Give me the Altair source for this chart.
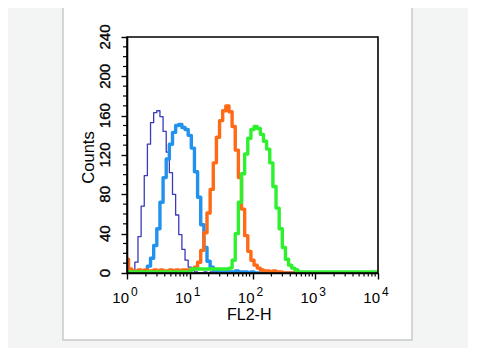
import altair as alt
import pandas as pd

# ---- data read from the reference histogram overlay ----
# bin centres in decades (log10 of FL2-H), 0.05 decade per channel group
LOG_BINS = [round(i * 0.05, 2) for i in range(81)]

DARK_BLUE = [0, 1, 3, 11, 37, 68, 99, 131, 153, 163,
             165, 159, 144, 123, 102, 80, 59, 39, 24, 13,
             6, 3, 1, 0, 0, 1, 0, 1, 1, 0,
             1, 0, 1, 1, 0, 1, 0, 0, 1, 0,
             0] + [0] * 40

LIGHT_BLUE = [0, 0, 0, 0, 0, 1, 2, 7, 15, 28,
              45, 72, 97, 116, 131, 143, 150, 151, 148, 146,
              140, 127, 103, 77, 49, 26, 12, 6, 3, 2,
              1, 1, 2, 1, 1, 2, 1, 1, 1, 0,
              1, 0] + [0] * 39

ORANGE = [14, 4, 2, 2, 3, 2, 3, 2, 2, 3,
          2, 3, 2, 2, 3, 2, 3, 2, 3, 3,
          3, 4, 6, 11, 23, 41, 61, 85, 112, 138,
          155, 165, 170, 164, 149, 125, 97, 65, 38, 22,
          13, 8, 5, 3, 2, 2, 1, 2, 1, 1,
          0] + [0] * 30

GREEN = [1] * 21 + [4] * 12 + [5, 13, 40, 72, 101, 121, 137,
         146, 149, 147, 141, 134, 126, 112, 88, 66, 45,
         26, 14, 8, 5, 3, 1] + [1] * 25

SERIES = [
    ("isotype", DARK_BLUE, "#3a3abb", 1.3),
    ("sample1", LIGHT_BLUE, "#2292ec", 3.4),
    ("sample2", ORANGE, "#ff6a17", 3.4),
    ("sample3", GREEN, "#2ff02f", 3.4),
]

X_MAJOR = [1, 10, 100, 1000, 10000]
X_BASE = ["10", "10", "10", "10", "10"]
X_EXP = ["0", "1", "2", "3", "4"]
X_MINOR = [2, 3, 4, 5, 6, 7, 8, 9,
           20, 30, 40, 50, 60, 70, 80, 90,
           200, 300, 400, 500, 600, 700, 800, 900,
           2000, 3000, 4000, 5000, 6000, 7000, 8000, 9000]
Y_MAJOR = [0, 40, 80, 120, 160, 200, 240]
Y_LABELS = ["0", "40", "80", "120", "160", "200", "240"]
Y_MINOR = [10, 20, 30, 50, 60, 70, 90, 100, 110, 130, 140, 150,
           170, 180, 190, 210, 220, 230]

W, H = 251, 236
FONT = "Liberation Sans"

xs = alt.Scale(type="log", domain=[1, 10000], nice=False)
ys = alt.Scale(domain=[0, 240], nice=False, zero=True)

x_axis = alt.Axis(values=X_MAJOR, labels=False, tickSize=6, tickWidth=1.4,
                  tickColor="black", domainColor="black", domainWidth=1.6,
                  grid=False, zindex=1, title="FL2-H", titleFont=FONT,
                  titleFontSize=16, titleFontWeight="normal", titleColor="black",
                  titleX=121.7, titleY=46, titleAlign="center",
                  titleBaseline="alphabetic")
y_axis = alt.Axis(values=Y_MAJOR, labels=False, tickSize=6, tickWidth=1.4,
                  tickColor="black", domainColor="black", domainWidth=1.6,
                  grid=False, zindex=1,
                  title="Counts", titleFont=FONT, titleFontSize=16.5,
                  titleFontWeight="normal", titleColor="black", titleAngle=270,
                  titleX=-33.5, titleY=120, titleAlign="center",
                  titleBaseline="alphabetic")

X = alt.X("fl2h:Q", scale=xs, axis=x_axis)
Y = alt.Y("counts:Q", scale=ys, axis=y_axis)

one = alt.Data(values=[{"a": 0}])

# white panel with grey border behind the plot
panel = alt.Chart(one).mark_rect(fill="white", stroke="#c9c9c9", strokeWidth=1.5).encode(
    x=alt.value(-64), x2=alt.value(285), y=alt.value(-31), y2=alt.value(303))

layers = [panel]
for name, vals, color, sw in SERIES:
    df = pd.DataFrame({"fl2h": [10 ** b for b in LOG_BINS], "counts": vals})
    layers.append(
        alt.Chart(df).mark_line(interpolate="step", color=color, strokeWidth=sw,
                                strokeJoin="round", clip=True).encode(x=X, y=Y))

frame = alt.Chart(one).mark_rect(fill="transparent", stroke="black", strokeWidth=1.6).encode(
    x=alt.value(0), x2=alt.value(W), y=alt.value(0), y2=alt.value(H))
layers.append(frame)

xminor = alt.Chart(pd.DataFrame({"fl2h": X_MINOR})).mark_rule(
    color="black", strokeWidth=1.2).encode(x=X, y=alt.value(H), y2=alt.value(H + 3.5))
yminor = alt.Chart(pd.DataFrame({"counts": Y_MINOR})).mark_rule(
    color="black", strokeWidth=1.2).encode(y=Y, x=alt.value(0), x2=alt.value(-4))
layers += [xminor, yminor]

lab = pd.DataFrame({"fl2h": X_MAJOR, "base": X_BASE, "exp": X_EXP})
base_txt = alt.Chart(lab).mark_text(align="right", baseline="alphabetic", dx=2,
                                    font=FONT, fontSize=15, color="black").encode(
    x=X, y=alt.value(265.7), text="base:N")
exp_txt = alt.Chart(lab).mark_text(align="left", baseline="alphabetic", dx=4,
                                   font=FONT, fontSize=12, color="black").encode(
    x=X, y=alt.value(259), text="exp:N")

ylab = pd.DataFrame({"counts": Y_MAJOR, "lbl": Y_LABELS})
y_txt = alt.Chart(ylab).mark_text(align="center", baseline="alphabetic", angle=270,
                                  font=FONT, fontSize=15, color="black",
                                  stroke="black", strokeWidth=0.35).encode(
    y=Y, x=alt.value(-17), text="lbl:N")
layers += [base_txt, exp_txt, y_txt]

chart = alt.layer(*layers).properties(
    width=W, height=H,
    autosize=alt.AutoSizeParams(type="none"),
    padding={"left": 119, "top": 29, "right": 90, "bottom": 75},
    background="#f3f4f4",
).configure_view(stroke=None)

chart.save("out.html", embed_options={"renderer": "svg", "actions": False})
